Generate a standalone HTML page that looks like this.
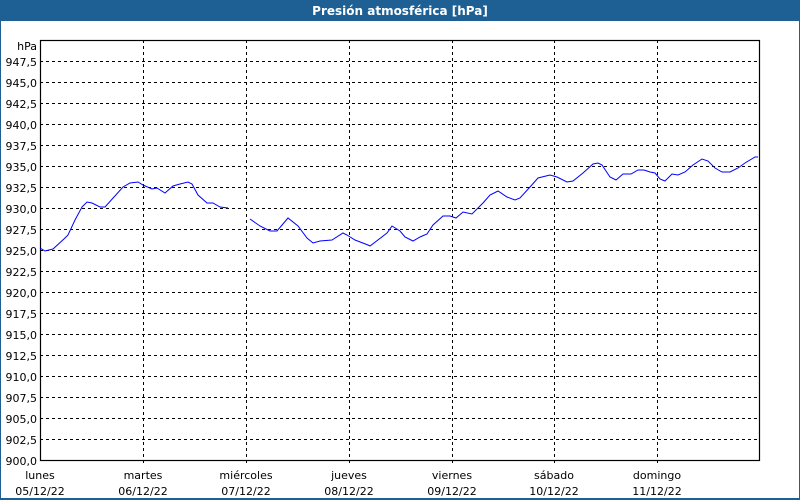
<!DOCTYPE html>
<html><head><meta charset="utf-8"><style>
body{margin:0;width:800px;height:500px;overflow:hidden;background:#fff;font-family:"DejaVu Sans","Liberation Sans",sans-serif;}
</style></head><body>
<svg width="800" height="500" xmlns="http://www.w3.org/2000/svg" style="position:absolute;left:0;top:0">
<rect x="0" y="0" width="800" height="500" fill="#1e6094"/>
<rect x="1" y="21" width="798" height="477" fill="#fff"/>
<text x="400" y="15" text-anchor="middle" fill="#fff" font-size="12" font-weight="bold" font-family="DejaVu Sans, Liberation Sans, sans-serif">Presión atmosférica [hPa]</text>
<g stroke="#000" stroke-width="1" stroke-dasharray="3,3" fill="none">
<path d="M40 61.5H760M40 82.5H760M40 103.5H760M40 124.5H760M40 145.5H760M40 166.5H760M40 187.5H760M40 208.5H760M40 229.5H760M40 250.5H760M40 271.5H760M40 292.5H760M40 313.5H760M40 334.5H760M40 355.5H760M40 376.5H760M40 397.5H760M40 418.5H760M40 439.5H760"/>
<path d="M143.5 40V466M246.5 40V466M349.5 40V466M452.5 40V466M554.5 40V466M657.5 40V466"/>
</g>
<rect x="40.5" y="40.5" width="719" height="420" fill="none" stroke="#000" stroke-width="1.2"/>
<g font-size="11" fill="#000" text-anchor="end" font-family="DejaVu Sans, Liberation Sans, sans-serif">
<text x="37" y="50">hPa</text>
<text x="37" y="66">947,5</text><text x="37" y="87">945,0</text><text x="37" y="108">942,5</text><text x="37" y="129">940,0</text><text x="37" y="150">937,5</text><text x="37" y="171">935,0</text><text x="37" y="192">932,5</text><text x="37" y="213">930,0</text><text x="37" y="234">927,5</text><text x="37" y="255">925,0</text><text x="37" y="276">922,5</text><text x="37" y="297">920,0</text><text x="37" y="318">917,5</text><text x="37" y="339">915,0</text><text x="37" y="360">912,5</text><text x="37" y="381">910,0</text><text x="37" y="402">907,5</text><text x="37" y="423">905,0</text><text x="37" y="444">902,5</text><text x="37" y="465">900,0</text>
</g>
<g font-size="11" fill="#000" text-anchor="middle" font-family="DejaVu Sans, Liberation Sans, sans-serif">
<text x="40" y="479">lunes</text><text x="40" y="495">05/12/22</text>
<text x="143" y="479">martes</text><text x="143" y="495">06/12/22</text>
<text x="246" y="479">miércoles</text><text x="246" y="495">07/12/22</text>
<text x="349" y="479">jueves</text><text x="349" y="495">08/12/22</text>
<text x="452" y="479">viernes</text><text x="452" y="495">09/12/22</text>
<text x="554" y="479">sábado</text><text x="554" y="495">10/12/22</text>
<text x="657" y="479">domingo</text><text x="657" y="495">11/12/22</text>
</g>
<g fill="none" stroke="#0000ff" stroke-width="1">
<polyline points="40,248 45,251 53,249 65,238 68,235 75,220 82,207 87,202 92,203 100,207 105,207 123,187 130,183 138,182 143,185 152,189 157,188 165,193 173,186 180,184 188,182 192,184 198,195 207,203 213,203 220,207 228,208"/>
<polyline points="250,219 260,226 270,231 277,231 288,218 298,226 307,238 313,243 320,241 332,240 343,233 347,235 355,240 368,245 370,246 387,233 392,226 400,231 405,237 413,241 420,237 427,234 433,225 443,216 450,216 456,218 463,212 472,214 483,203 490,195 498,191 507,197 515,200 520,198 530,187 538,178 550,175 557,177 567,182 573,181 583,173 593,164 598,163 602,165 610,177 616,180 623,174 631,174 638,170 644,170 650,172 655,173 660,179 665,181 672,174 678,175 685,172 693,165 702,159 708,161 715,168 722,172 730,172 738,168 745,163 755,157 758,157"/>
</g>
</svg>
</body></html>
